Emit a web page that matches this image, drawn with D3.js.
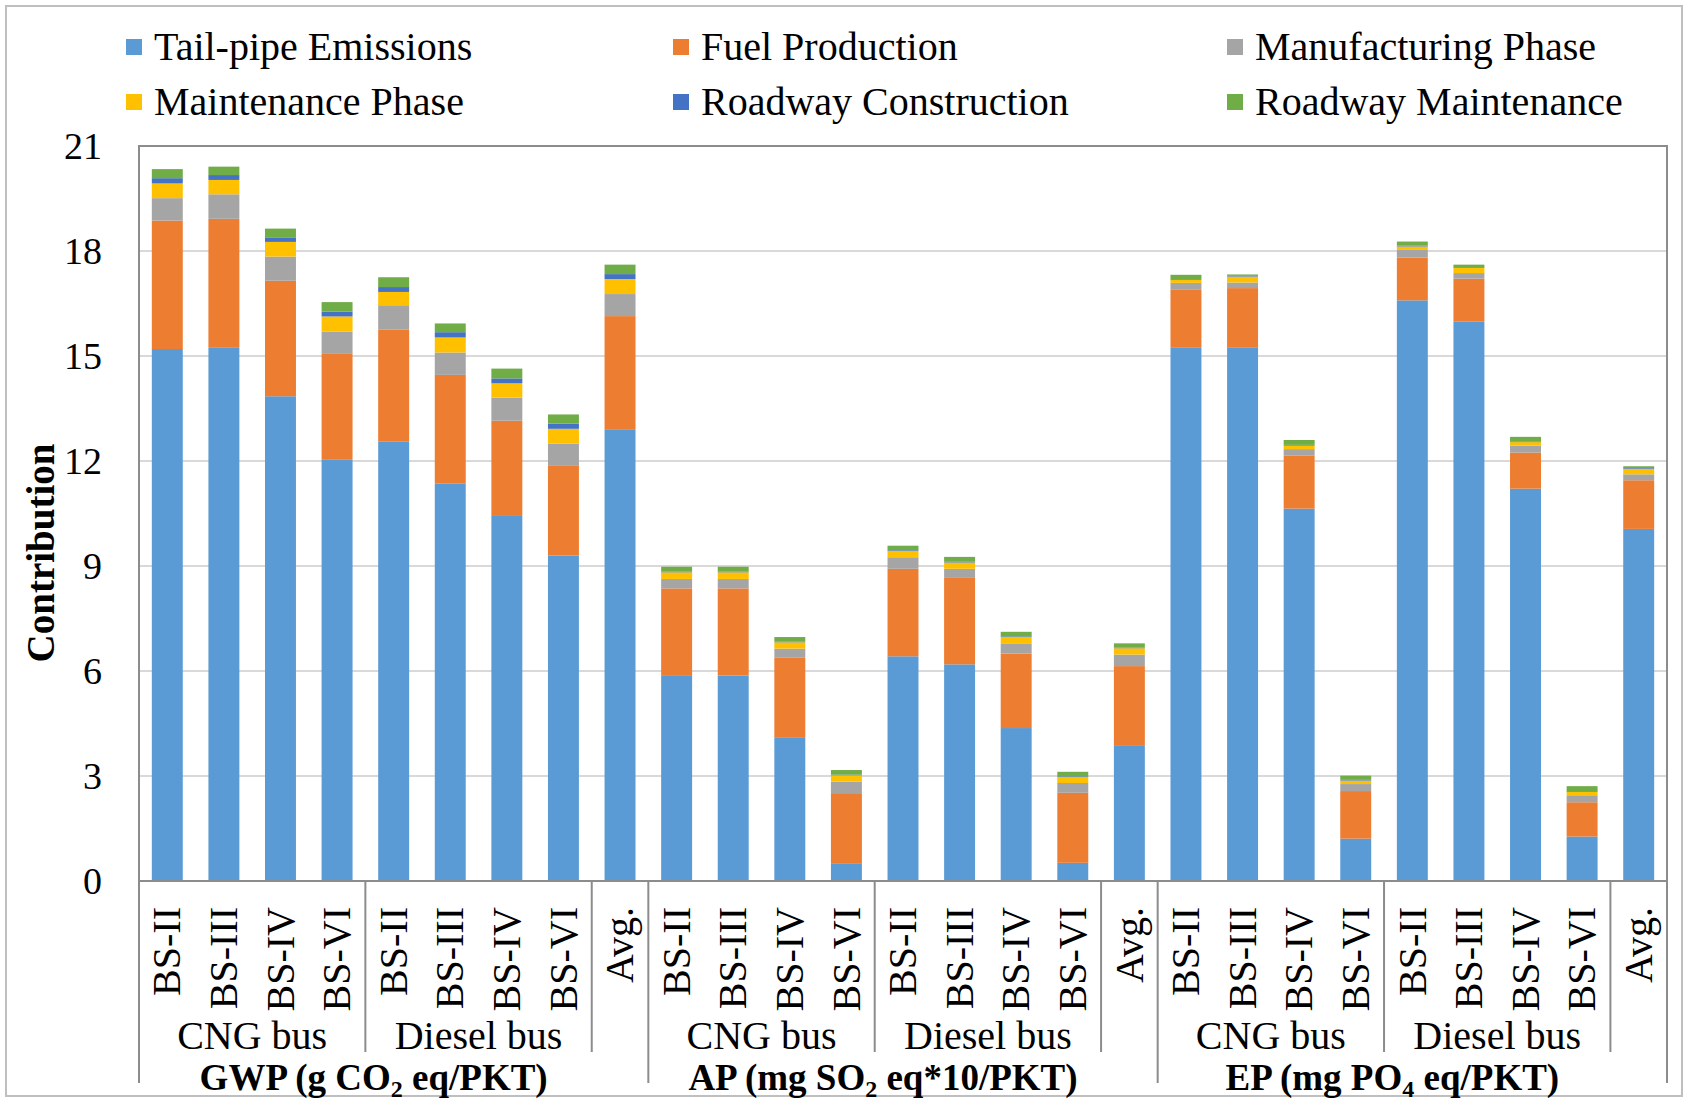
<!DOCTYPE html>
<html>
<head>
<meta charset="utf-8">
<script src="https://cdn.jsdelivr.net/npm/d3@7"></script>
<style>
  html, body { margin: 0; padding: 0; background: #ffffff; }
  svg { display: block; }
</style>
</head>
<body>
<svg id="chart" width="1686" height="1102"></svg>
<script>
// ---- data ----------------------------------------------------------------
const categories = [
  "BS-II", "BS-III", "BS-IV", "BS-VI", "BS-II", "BS-III", "BS-IV", "BS-VI", "Avg.",
  "BS-II", "BS-III", "BS-IV", "BS-VI", "BS-II", "BS-III", "BS-IV", "BS-VI", "Avg.",
  "BS-II", "BS-III", "BS-IV", "BS-VI", "BS-II", "BS-III", "BS-IV", "BS-VI", "Avg."
];
const busGroups = ["CNG bus", "Diesel bus"];
const indicatorLabels = [
  [["GWP (g CO"], ["2", "sub"], [" eq/PKT)"]],
  [["AP (mg SO"], ["2", "sub"], [" eq*10/PKT)"]],
  [["EP (mg PO"], ["4", "sub"], [" eq/PKT)"]]
];
const seriesNames = [
  "Tail-pipe Emissions", "Fuel Production", "Manufacturing Phase",
  "Maintenance Phase", "Roadway Construction", "Roadway Maintenance"
];
const seriesColors = ["#5B9BD5", "#ED7D31", "#A5A5A5", "#FFC000", "#4472C4", "#70AD47"];

const tailpipe = [
  15.20, 15.25, 13.85, 12.05, 12.55, 11.36, 10.43, 9.30, 12.89,
  5.86, 5.87, 4.09, 0.49, 6.42, 6.19, 4.37, 0.52, 3.86,
  15.25, 15.25, 10.64, 1.21, 16.59, 15.99, 11.21, 1.27, 10.06
];
const fuelProduction = [
  3.67, 3.67, 3.30, 3.01, 3.21, 3.10, 2.72, 2.56, 3.25,
  2.50, 2.49, 2.30, 2.02, 2.50, 2.47, 2.13, 2.00, 2.28,
  1.64, 1.69, 1.51, 1.36, 1.22, 1.22, 1.03, 0.98, 1.39
];
const manufacturing = [
  0.64, 0.70, 0.69, 0.64, 0.69, 0.64, 0.66, 0.64, 0.63,
  0.27, 0.27, 0.25, 0.33, 0.33, 0.26, 0.29, 0.28, 0.33,
  0.20, 0.16, 0.19, 0.20, 0.22, 0.16, 0.20, 0.20, 0.17
];
const maintenance = [
  0.42, 0.41, 0.42, 0.43, 0.38, 0.43, 0.41, 0.42, 0.43,
  0.19, 0.19, 0.18, 0.18, 0.18, 0.18, 0.18, 0.17, 0.18,
  0.09, 0.17, 0.10, 0.10, 0.10, 0.15, 0.10, 0.10, 0.16
];
const roadwayConstruction = [
  0.15, 0.14, 0.13, 0.14, 0.14, 0.15, 0.14, 0.15, 0.14,
  0.02, 0.02, 0.02, 0.02, 0.02, 0.02, 0.02, 0.02, 0.02,
  0.02, 0.02, 0.02, 0.02, 0.02, 0.02, 0.02, 0.02, 0.02
];
const roadwayMaintenance = [
  0.26, 0.24, 0.25, 0.27, 0.28, 0.25, 0.28, 0.26, 0.27,
  0.14, 0.14, 0.13, 0.13, 0.13, 0.14, 0.13, 0.13, 0.12,
  0.12, 0.04, 0.14, 0.12, 0.12, 0.07, 0.13, 0.14, 0.05
];
const yTicks = [0, 3, 6, 9, 12, 15, 18, 21];

// ---- layout --------------------------------------------------------------
const serif = "'Liberation Serif', 'Times New Roman', Times, serif";
const plot = { left: 139, right: 1667, top: 146, bottom: 881 };

const svg = d3.select("#chart");
svg.append("rect").attr("width", 1686).attr("height", 1102).attr("fill", "#ffffff");
// outer frame of the figure
svg.append("rect")
  .attr("x", 6).attr("y", 6).attr("width", 1676).attr("height", 1090)
  .attr("fill", "none").attr("stroke", "#bfbfbf").attr("stroke-width", 2);

const keys = ["tail", "fuel", "manuf", "maint", "rcon", "rmaint"];
const rows = categories.map((c, i) => ({
  idx: i,
  tail: tailpipe[i], fuel: fuelProduction[i], manuf: manufacturing[i],
  maint: maintenance[i], rcon: roadwayConstruction[i], rmaint: roadwayMaintenance[i]
}));
const stacked = d3.stack().keys(keys)(rows);

const padInner = 0.453;
const x = d3.scaleBand()
  .domain(d3.range(categories.length))
  .range([plot.left, plot.right])
  .paddingInner(padInner)
  .paddingOuter(padInner / 2);
const step = x.step();
const boundary = i => plot.left + i * step;

const y = d3.scaleLinear().domain([0, 21]).range([plot.bottom, plot.top]);

// gridlines
svg.append("g")
  .selectAll("line")
  .data(yTicks.filter(t => t > 0 && t < 21))
  .join("line")
  .attr("x1", plot.left).attr("x2", plot.right)
  .attr("y1", d => y(d)).attr("y2", d => y(d))
  .attr("stroke", "#d9d9d9").attr("stroke-width", 2);

// y tick labels
svg.append("g")
  .selectAll("text")
  .data(yTicks)
  .join("text")
  .attr("x", 102)
  .attr("y", d => y(d))
  .attr("dy", "0.34em")
  .attr("text-anchor", "end")
  .attr("font-family", serif)
  .attr("font-size", 38)
  .attr("fill", "#000")
  .text(d => d);

// stacked bars
const layers = svg.append("g")
  .selectAll("g")
  .data(stacked)
  .join("g")
  .attr("fill", (d, i) => seriesColors[i]);
layers.selectAll("rect")
  .data(d => d)
  .join("rect")
  .attr("x", d => x(d.data.idx))
  .attr("width", x.bandwidth())
  .attr("y", d => y(d[1]))
  .attr("height", d => Math.max(0, y(d[0]) - y(d[1])));

// plot area frame and category axis line
svg.append("path")
  .attr("d", `M${plot.left},${plot.bottom}V${plot.top}H${plot.right}V${plot.bottom}`)
  .attr("fill", "none").attr("stroke", "#8c8c8c").attr("stroke-width", 2);
svg.append("line")
  .attr("x1", plot.left).attr("x2", plot.right)
  .attr("y1", plot.bottom).attr("y2", plot.bottom)
  .attr("stroke", "#8c8c8c").attr("stroke-width", 2);

// category labels (rotated)
svg.append("g")
  .selectAll("text")
  .data(categories)
  .join("text")
  .attr("transform", (d, i) => `translate(${x(i) + x.bandwidth() / 2},907) rotate(-90)`)
  .attr("dy", "0.33em")
  .attr("text-anchor", "end")
  .attr("font-family", serif)
  .attr("font-size", 40)
  .attr("fill", "#000")
  .text(d => d);

// multi-level separators
const perIndicator = 9;
const longBounds = [0, 9, 18, 27];
const shortBounds = [];
indicatorLabels.forEach((_, k) => {
  shortBounds.push(k * perIndicator + 4, k * perIndicator + 8);
});
svg.append("g")
  .selectAll("line")
  .data(longBounds.map(b => ({ b, end: 1083 })).concat(shortBounds.map(b => ({ b, end: 1052 }))))
  .join("line")
  .attr("x1", d => boundary(d.b)).attr("x2", d => boundary(d.b))
  .attr("y1", plot.bottom).attr("y2", d => d.end)
  .attr("stroke", "#8c8c8c").attr("stroke-width", 2);

// bus-type group labels
const groupLabelData = [];
indicatorLabels.forEach((_, k) => {
  busGroups.forEach((g, j) => {
    const start = k * perIndicator + j * 4;
    groupLabelData.push({ text: g, cx: (boundary(start) + boundary(start + 4)) / 2 });
  });
});
svg.append("g")
  .selectAll("text")
  .data(groupLabelData)
  .join("text")
  .attr("x", d => d.cx)
  .attr("y", 1049)
  .attr("text-anchor", "middle")
  .attr("font-family", serif)
  .attr("font-size", 40)
  .attr("fill", "#000")
  .text(d => d.text);

// indicator labels with subscripts (centred slightly left of each block)
indicatorLabels.forEach((parts, k) => {
  const cx = (boundary(k * perIndicator) + boundary((k + 1) * perIndicator)) / 2 - 20;
  const t = svg.append("text")
    .attr("x", cx).attr("y", 1090)
    .attr("text-anchor", "middle")
    .attr("font-family", serif)
    .attr("font-size", 37)
    .attr("font-weight", "bold")
    .attr("fill", "#000");
  parts.forEach(p => {
    const ts = t.append("tspan").text(p[0]);
    if (p[1] === "sub") {
      ts.attr("font-size", 24).attr("dy", 7);
    } else if (t.selectAll("tspan").size() > 1) {
      ts.attr("dy", -7);
    }
  });
});

// y axis title
svg.append("text")
  .attr("transform", "translate(54,553) rotate(-90)")
  .attr("text-anchor", "middle")
  .attr("font-family", serif)
  .attr("font-size", 39)
  .attr("font-weight", "bold")
  .attr("fill", "#000")
  .text("Contribution");

// legend
const legendCols = [126, 673, 1227];
const legendRows = [47, 102];
const legend = svg.append("g")
  .selectAll("g")
  .data(seriesNames)
  .join("g")
  .attr("transform", (d, i) => `translate(${legendCols[i % 3]},${legendRows[Math.floor(i / 3)]})`);
legend.append("rect")
  .attr("x", 0).attr("y", -8).attr("width", 16).attr("height", 16)
  .attr("fill", (d, i) => seriesColors[i]);
legend.append("text")
  .attr("x", 28).attr("y", 0).attr("dy", "0.33em")
  .attr("font-family", serif)
  .attr("font-size", 40)
  .attr("fill", "#000")
  .text(d => d);
</script>
</body>
</html>
